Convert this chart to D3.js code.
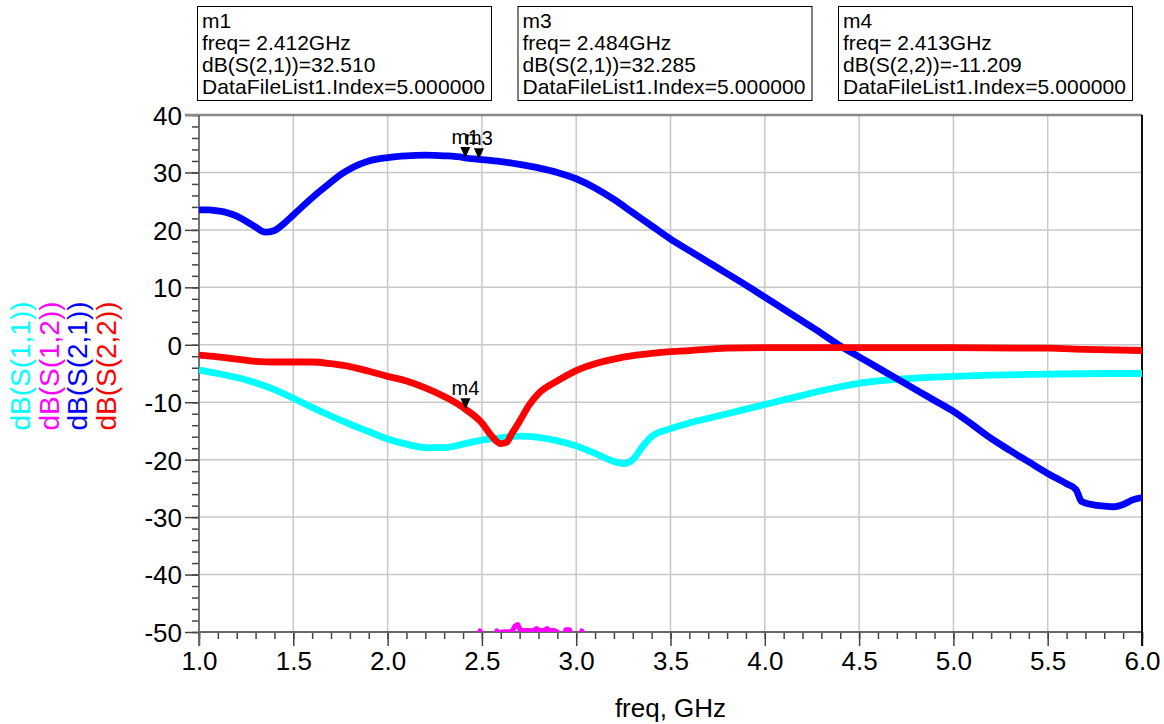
<!DOCTYPE html>
<html>
<head>
<meta charset="utf-8">
<script src="https://cdn.jsdelivr.net/npm/d3@7.9.0/dist/d3.min.js"></script>
<style>
  html, body { margin: 0; padding: 0; background: #fff; }
  svg { display: block; font-family: "Liberation Sans", Arial, sans-serif; }
</style>
</head>
<body>
<svg id="chart" width="1164" height="724"></svg>
<script>
// ---------------------------------------------------------
// Data: [freq GHz, dB]
// ---------------------------------------------------------
const s21 = [
  [1.0, 23.5], [1.05, 23.5], [1.1, 23.3], [1.15, 23.0], [1.2, 22.4], [1.25, 21.5],
  [1.3, 20.5], [1.35, 19.6], [1.4, 19.9], [1.45, 21.1], [1.5, 22.6], [1.6, 25.6],
  [1.7, 28.3], [1.75, 29.6], [1.8, 30.6], [1.85, 31.4], [1.9, 32.0], [2.0, 32.6],
  [2.1, 32.9], [2.2, 33.0], [2.3, 32.9], [2.4, 32.6], [2.412, 32.51], [2.484, 32.285],
  [2.6, 31.9], [2.7, 31.4], [2.8, 30.8], [2.9, 30.0], [3.0, 28.9], [3.1, 27.3],
  [3.2, 25.3], [3.3, 23.0], [3.4, 20.7], [3.5, 18.4], [3.6, 16.4], [3.7, 14.4],
  [3.8, 12.4], [3.9, 10.4], [4.0, 8.3], [4.1, 6.2], [4.2, 4.1], [4.3, 2.0],
  [4.4, -0.2], [4.5, -2.1], [4.6, -4.0], [4.7, -5.9], [4.8, -7.8], [4.9, -9.7],
  [5.0, -11.6], [5.1, -13.9], [5.2, -16.3], [5.3, -18.4], [5.4, -20.4], [5.5, -22.4],
  [5.6, -24.2], [5.65, -25.2], [5.68, -27.3], [5.75, -27.9], [5.8, -28.1], [5.85, -28.2],
  [5.9, -27.8], [5.95, -27.0], [6.0, -26.6]
];

const s22 = [
  [1.0, -1.8], [1.1, -2.1], [1.2, -2.5], [1.3, -2.9], [1.4, -3.0], [1.5, -3.0],
  [1.6, -3.0], [1.7, -3.3], [1.8, -3.8], [1.9, -4.6], [2.0, -5.5], [2.1, -6.3],
  [2.2, -7.5], [2.3, -9.0], [2.4, -10.9], [2.413, -11.209], [2.5, -13.6], [2.55, -15.8],
  [2.6, -17.2], [2.63, -17.0], [2.66, -15.4], [2.7, -13.3], [2.75, -10.5], [2.8, -8.5],
  [2.9, -6.3], [3.0, -4.5], [3.1, -3.3], [3.2, -2.5], [3.3, -1.9], [3.4, -1.5],
  [3.5, -1.2], [3.6, -1.0], [3.8, -0.6], [4.0, -0.5], [4.5, -0.5], [5.0, -0.5],
  [5.5, -0.6], [5.7, -0.8], [6.0, -1.0]
];

const s11 = [
  [1.0, -4.4], [1.1, -5.0], [1.2, -5.7], [1.3, -6.6], [1.4, -7.8], [1.5, -9.3],
  [1.6, -10.9], [1.7, -12.4], [1.8, -13.8], [1.9, -15.1], [2.0, -16.4], [2.1, -17.3],
  [2.2, -17.9], [2.3, -17.9], [2.4, -17.3], [2.5, -16.6], [2.6, -16.2], [2.7, -15.9],
  [2.8, -16.1], [2.9, -16.7], [3.0, -17.6], [3.1, -18.9], [3.2, -20.3], [3.25, -20.7],
  [3.3, -20.0], [3.35, -17.8], [3.4, -16.0], [3.5, -14.6], [3.6, -13.6], [3.7, -12.8],
  [3.8, -12.0], [3.9, -11.2], [4.0, -10.4], [4.1, -9.6], [4.2, -8.8], [4.3, -8.0],
  [4.4, -7.3], [4.5, -6.7], [4.6, -6.3], [4.7, -6.0], [4.8, -5.8], [5.0, -5.5],
  [5.2, -5.3], [5.5, -5.1], [5.8, -5.0], [6.0, -5.0]
];

// mostly below the -50 dB floor, only a few blips show
const s12 = [
  [2.47, -52], [2.49, -49.8], [2.51, -52], [2.565, -52], [2.58, -49.8], [2.595, -52],
  [2.605, -50], [2.66, -49.9], [2.675, -49.0], [2.69, -48.7], [2.705, -49.7], [2.77, -49.8],
  [2.79, -49.4], [2.81, -49.8], [2.83, -49.7], [2.845, -49.4], [2.86, -49.8], [2.88, -49.7],
  [2.9, -50], [2.915, -52], [2.935, -52], [2.945, -49.6], [2.965, -49.6], [2.98, -52],
  [3.015, -52], [3.03, -49.8], [3.045, -52]
];

const seriesNames = ["dB(S(1,1))", "dB(S(1,2))", "dB(S(2,1))", "dB(S(2,2))"];
const seriesColors = ["#00ffff", "#ff00ff", "#0000ff", "#ff0000"];
const seriesData = [s11, s12, s21, s22];

const markers = [
  { name: "m1", freq: 2.412, value: 32.510, trace: "dB(S(2,1))" },
  { name: "m3", freq: 2.484, value: 32.285, trace: "dB(S(2,1))" },
  { name: "m4", freq: 2.413, value: -11.209, trace: "dB(S(2,2))" }
];
const xTicks = [1.0, 1.5, 2.0, 2.5, 3.0, 3.5, 4.0, 4.5, 5.0, 5.5, 6.0];
const yTicks = [40, 30, 20, 10, 0, -10, -20, -30, -40, -50];

// ---------------------------------------------------------
// Layout
// ---------------------------------------------------------
const margin = { left: 199, right: 1142, top: 115, bottom: 632 };
const svg = d3.select("#chart");

const x = d3.scaleLinear().domain([1, 6]).range([margin.left, margin.right]);
const y = d3.scaleLinear().domain([-50, 40]).range([margin.bottom, margin.top]);

svg.append("rect").attr("width", 1164).attr("height", 724).attr("fill", "#fff");

// grid
const grid = svg.append("g").attr("class", "grid");
grid.selectAll("line.gx")
  .data(xTicks.slice(1, -1))
  .join("line")
  .attr("x1", d => x(d)).attr("x2", d => x(d))
  .attr("y1", margin.top).attr("y2", margin.bottom)
  .attr("stroke", "#c8c8c8").attr("stroke-width", 1.5);
grid.selectAll("line.gy")
  .data(yTicks.slice(1, -1))
  .join("line")
  .attr("x1", margin.left).attr("x2", margin.right)
  .attr("y1", d => y(d)).attr("y2", d => y(d))
  .attr("stroke", "#c8c8c8").attr("stroke-width", 1.5);

// axes
const yMinor = svg.append("g")
  .attr("transform", `translate(${margin.left},0)`)
  .call(d3.axisLeft(y).tickValues(d3.range(-50, 41, 2)).tickSize(7).tickFormat(""));
const yMajor = svg.append("g")
  .attr("transform", `translate(${margin.left},0)`)
  .call(d3.axisLeft(y).tickValues(yTicks).tickSize(14).tickPadding(3).tickFormat(d => d));
const xMinor = svg.append("g")
  .attr("transform", `translate(0,${margin.bottom})`)
  .call(d3.axisBottom(x).tickValues(d3.range(10, 61, 1).map(d => d / 10)).tickSize(7).tickFormat(""));
const xMajor = svg.append("g")
  .attr("transform", `translate(0,${margin.bottom})`)
  .call(d3.axisBottom(x).tickValues(xTicks).tickSize(14).tickPadding(6).tickFormat(d3.format(".1f")));

[yMinor, yMajor, xMinor, xMajor].forEach(g => {
  g.select(".domain").remove();
  g.selectAll(".tick line").attr("stroke", "#444").attr("stroke-width", 1.5);
  g.selectAll(".tick text")
    .attr("fill", "#000")
    .attr("font-size", 26)
    .attr("font-family", "'Liberation Sans', Arial, sans-serif");
});
yMajor.selectAll(".tick text").attr("dy", "0.36em");

// borders
svg.append("line").attr("x1", margin.left - 14).attr("x2", margin.right)
  .attr("y1", margin.top).attr("y2", margin.top)
  .attr("stroke", "#888").attr("stroke-width", 2.5);
svg.append("line").attr("x1", margin.left).attr("x2", margin.left)
  .attr("y1", margin.top).attr("y2", margin.bottom + 14)
  .attr("stroke", "#666").attr("stroke-width", 1.8);
svg.append("line").attr("x1", margin.left).attr("x2", margin.right)
  .attr("y1", margin.bottom).attr("y2", margin.bottom)
  .attr("stroke", "#666").attr("stroke-width", 2);
svg.append("line").attr("x1", margin.right).attr("x2", margin.right)
  .attr("y1", margin.top).attr("y2", margin.bottom + 14)
  .attr("stroke", "#111").attr("stroke-width", 2);

// traces
svg.append("clipPath").attr("id", "plot-clip")
  .append("rect")
  .attr("x", margin.left).attr("y", margin.top - 4)
  .attr("width", margin.right - margin.left).attr("height", margin.bottom - margin.top + 4);

const smooth = d3.line().curve(d3.curveMonotoneX).x(d => x(d[0])).y(d => y(d[1]));
const straight = d3.line().x(d => x(d[0])).y(d => y(d[1]));
const traces = svg.append("g").attr("clip-path", "url(#plot-clip)");
seriesData.forEach((data, i) => {
  traces.append("path")
    .datum(data)
    .attr("d", i === 1 ? straight : smooth)
    .attr("fill", "none")
    .attr("stroke", seriesColors[i])
    .attr("stroke-width", i === 1 ? 5 : 6.8)
    .attr("stroke-linejoin", "round");
});

// markers on traces
const mk = svg.append("g").attr("class", "markers");
markers.forEach(m => {
  const mx = x(m.freq), my = y(m.value);
  mk.append("path")
    .attr("d", `M${mx - 5},${my - 11}L${mx + 5},${my - 11}L${mx},${my}Z`)
    .attr("fill", "#000");
  mk.append("text")
    .attr("x", mx).attr("y", my - 14)
    .attr("text-anchor", "middle")
    .attr("font-size", 20)
    .text(m.name);
});

// marker readout boxes
const boxes = svg.append("g").attr("class", "readouts");
markers.forEach((m, i) => {
  const bx = 197 + i * 320.5;
  boxes.append("rect")
    .attr("x", bx + 0.5).attr("y", 6.5)
    .attr("width", 294).attr("height", 94)
    .attr("fill", "#fff").attr("stroke", "#000").attr("stroke-width", 1);
  const lines = [
    m.name,
    `freq= ${m.freq.toFixed(3)}GHz`,
    `${m.trace}=${m.value.toFixed(3)}`,
    "DataFileList1.Index=5.000000"
  ];
  boxes.selectAll(null)
    .data(lines)
    .join("text")
    .attr("x", bx + 5)
    .attr("y", (d, j) => 28 + j * 22)
    .attr("font-size", 21)
    .attr("textLength", d => d.startsWith("Data") ? 283 : null)
    .attr("fill", "#000")
    .text(d => d);
});

// y-axis trace labels
const yLabelX = [30, 58.5, 87, 115.5];
seriesNames.forEach((name, i) => {
  svg.append("text")
    .attr("transform", `translate(${yLabelX[i]},366) rotate(-90)`)
    .attr("text-anchor", "middle")
    .attr("font-size", 28)
    .attr("fill", seriesColors[i])
    .text(name);
});

// x-axis title
svg.append("text")
  .attr("x", (margin.left + margin.right) / 2)
  .attr("y", 717)
  .attr("text-anchor", "middle")
  .attr("font-size", 26)
  .text("freq, GHz");
</script>
</body>
</html>
